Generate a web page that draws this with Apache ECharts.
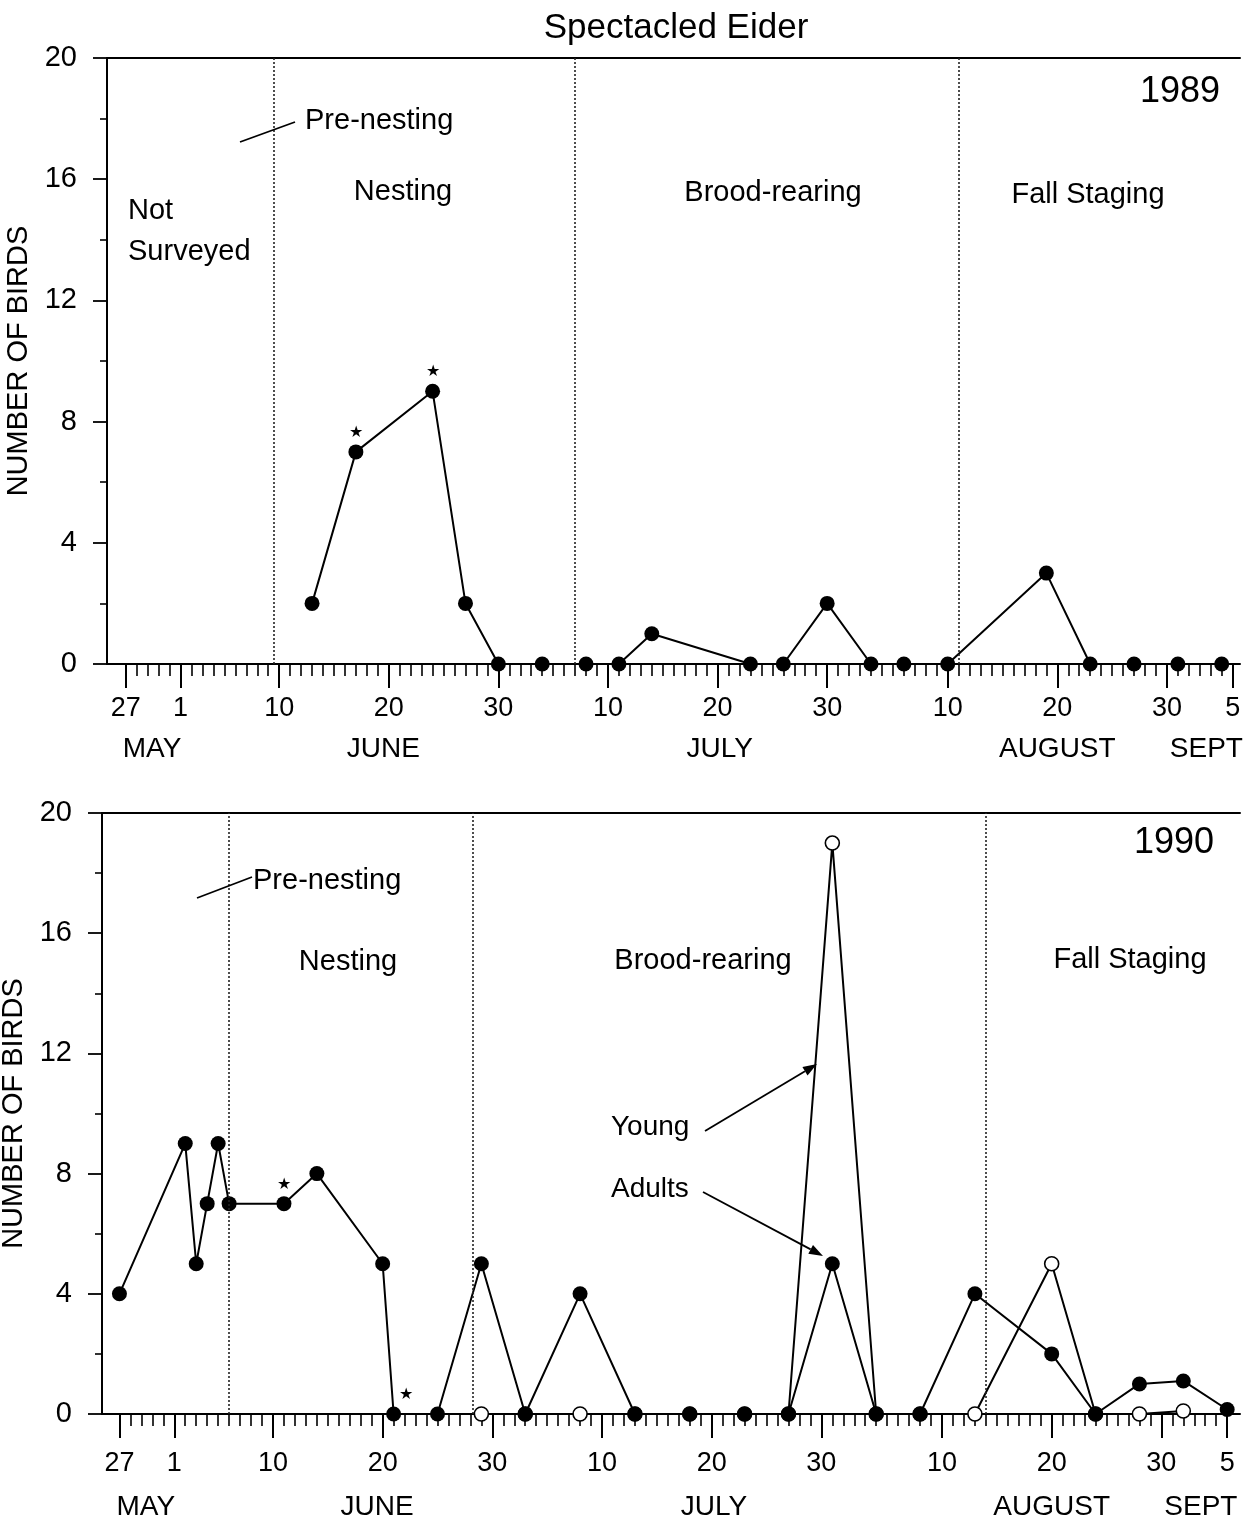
<!DOCTYPE html>
<html>
<head>
<meta charset="utf-8">
<title>Spectacled Eider</title>
<script src="https://cdn.jsdelivr.net/npm/echarts@6/dist/echarts.min.js"></script>
<style>
  html, body { margin: 0; padding: 0; background: #fff; }
  #chart { width: 1255px; height: 1527px; }
</style>
</head>
<body>
<div id="chart"></div>
<script>
// ---- Survey counts (dates as MM-DD) ----
const dates1989 = ['06-13','06-17','06-24','06-27','06-30','07-04','07-08','07-11','07-14','07-23',
                   '07-26','07-30','08-03','08-06','08-10','08-19','08-23','08-27','08-31','09-04'];
const adults1989 = [2, 7, 9, 2, 0, 0, 0, 0, 1, 0, 0, 2, 0, 0, 0, 3, 0, 0, 0, 0];
const starred1989 = ['06-17', '06-24'];

const dates1990 = ['05-27','06-02','06-03','06-04','06-05','06-06','06-11','06-14','06-20','06-21',
                   '06-25','06-29','07-03','07-08','07-13','07-18','07-23','07-27','07-31','08-04',
                   '08-08','08-13','08-20','08-24','08-28','09-01','09-05'];
const adults1990 = [4, 9, 5, 7, 9, 7, 7, 8, 5, 0, 0, 5, 0, 4, 0, 0, 0, 0, 5, 0, 0, 4, 2, 0, 1, 1.1, 0.15];
const starred1990 = ['06-11', '06-21'];

const youngDates1990 = ['06-29','07-03','07-08','07-13','07-18','07-23','07-27','07-31','08-04',
                        '08-08','08-13','08-20','08-24','08-28','09-01'];
const young1990 = [0, 0, 0, 0, 0, 0, 0, 19, 0, 0, 0, 5, 0, 0, 0.1];

// Season boundaries (fractional days after 1 June)
const phaseBounds1989 = [8.5, 36.0, 71.0];
const phaseBounds1990 = [5.0, 27.2, 74.0];

// Date axis labels
const tickDates = ['05-27','06-01','06-10','06-20','06-30','07-10','07-20','07-30','08-10','08-20','08-30','09-05'];
const tickLabels = ['27', '1', '10', '20', '30', '10', '20', '30', '10', '20', '30', '5'];
const monthNames = ['MAY', 'JUNE', 'JULY', 'AUGUST', 'SEPT'];
const monthCenters = [-2.6, 18.5, 49.2, 80.0, 93.6];
const yTicks = [0, 4, 8, 12, 16, 20];

// ---- helpers ----
// days after 1 June (same calendar for both seasons)
function dayOf(md) {
  const [m, d] = md.split('-').map(Number);
  return (Date.UTC(2001, m - 1, d) - Date.UTC(2001, 5, 1)) / 86400000;
}
const xRange = [[-6.71, 96.67], [-6.59, 97.17]];
const allDays = [];
for (let d = dayOf('05-27'); d <= dayOf('09-05'); d++) allDays.push(d);
const tickDays = tickDates.map(dayOf);
const FONT = 'Liberation Sans, Arial, Helvetica, sans-serif';

function pts(dates, vals, starred, starOffsets) {
  return dates.map((md, i) => {
    const item = { value: [dayOf(md), vals[i]] };
    const si = starred ? starred.indexOf(md) : -1;
    if (si >= 0) {
      item.label = {
        show: true, formatter: '\u2605', position: 'top', distance: 4,
        fontSize: 16, color: '#000', offset: starOffsets[si]
      };
    }
    return item;
  });
}

const grids = [
  { left: 107, right: 15, top: 58, height: 606, outerBoundsMode: 'none', containLabel: false },
  { left: 102, right: 15, top: 813, height: 601, outerBoundsMode: 'none', containLabel: false }
];
const dayLabelMargin = [31, 36];
const monthLabelMargin = [71, 79];

const xAxes = [], yAxes = [];
grids.forEach((g, gi) => {
  const mn = xRange[gi][0], mx = xRange[gi][1];
  // daily ticks + baseline
  xAxes.push({
    type: 'value', gridIndex: gi, min: mn, max: mx, position: 'bottom',
    axisLine: { show: true, onZero: false, lineStyle: { color: '#000', width: 2 } },
    axisTick: { show: true, customValues: allDays, length: 12, lineStyle: { color: '#000', width: 1.6 } },
    axisLabel: { show: false }, splitLine: { show: false }
  });
  // long ticks with day numbers
  xAxes.push({
    type: 'value', gridIndex: gi, min: mn, max: mx, position: 'bottom',
    axisLine: { show: false, onZero: false },
    axisTick: { show: true, customValues: tickDays, length: 24, lineStyle: { color: '#000', width: 2 } },
    axisLabel: {
      show: true, customValues: tickDays, margin: dayLabelMargin[gi],
      fontSize: 27, color: '#000', fontFamily: FONT,
      formatter: v => tickLabels[tickDays.indexOf(v)]
    },
    splitLine: { show: false }
  });
  // month names
  xAxes.push({
    type: 'value', gridIndex: gi, min: mn, max: mx, position: 'bottom',
    axisLine: { show: false, onZero: false }, axisTick: { show: false },
    axisLabel: {
      show: true, customValues: monthCenters, margin: monthLabelMargin[gi],
      fontSize: 28, color: '#000', fontFamily: FONT,
      formatter: v => monthNames[monthCenters.indexOf(v)]
    },
    splitLine: { show: false }
  });
  // frame top edge
  xAxes.push({
    type: 'value', gridIndex: gi, min: mn, max: mx, position: 'top',
    axisLine: { show: true, onZero: false, lineStyle: { color: '#000', width: 2 } },
    axisTick: { show: false }, axisLabel: { show: false }, splitLine: { show: false }
  });
  yAxes.push({
    type: 'value', gridIndex: gi, min: 0, max: 20, interval: 4,
    axisLine: { show: true, onZero: false, lineStyle: { color: '#000', width: 2 } },
    axisTick: { show: true, length: 14, lineStyle: { color: '#000', width: 1.8 } },
    minorTick: { show: true, splitNumber: 2, length: 7, lineStyle: { color: '#000', width: 1.6 } },
    axisLabel: {
      show: true, customValues: yTicks, margin: 30, fontSize: 29, color: '#000', fontFamily: FONT
    },
    splitLine: { show: false }, minorSplitLine: { show: false },
    name: 'NUMBER OF BIRDS', nameLocation: 'middle', nameGap: gi === 0 ? 69 : 64,
    nameTextStyle: { fontSize: 29, color: '#000', fontFamily: FONT }
  });
});

const lineStyle = { color: '#000', width: 2 };
const filled = { color: '#000' };
const hollow = { color: '#fff', borderColor: '#000', borderWidth: 1.6 };

function dividers(bounds) {
  return {
    silent: true, symbol: 'none', animation: false,
    label: { show: false },
    lineStyle: { color: '#222', type: [2, 2], width: 1.6 },
    data: bounds.map(b => ({ xAxis: b }))
  };
}

const series = [
  {
    name: 'Adults 1989', type: 'line', xAxisIndex: 0, yAxisIndex: 0,
    data: pts(dates1989, adults1989, starred1989, [[0, 0], [0, 0]]),
    symbol: 'circle', symbolSize: 15, itemStyle: filled, lineStyle: lineStyle,
    markLine: dividers(phaseBounds1989), z: 3
  },
  {
    name: 'Young 1990', type: 'line', xAxisIndex: 4, yAxisIndex: 1,
    data: pts(youngDates1990, young1990),
    symbol: 'circle', symbolSize: 14, itemStyle: hollow, lineStyle: lineStyle, z: 2
  },
  {
    name: 'Adults 1990', type: 'line', xAxisIndex: 4, yAxisIndex: 1,
    data: pts(dates1990, adults1990, starred1990, [[0, 0], [12, 0]]),
    symbol: 'circle', symbolSize: 15, itemStyle: filled, lineStyle: lineStyle,
    markLine: dividers(phaseBounds1990), z: 3
  }
];

function txt(x, y, s, opts) {
  opts = opts || {};
  return {
    type: 'text', x: x, y: y, silent: true, z: 10,
    style: {
      text: s, fill: '#000', font: (opts.size || 29) + 'px ' + FONT,
      textAlign: opts.align || 'left', textVerticalAlign: 'middle'
    }
  };
}
function seg(x1, y1, x2, y2) {
  return {
    type: 'line', silent: true, z: 10,
    shape: { x1: x1, y1: y1, x2: x2, y2: y2 },
    style: { stroke: '#000', lineWidth: 1.8 }
  };
}
function arrow(x1, y1, x2, y2) {
  const a = Math.atan2(y2 - y1, x2 - x1), L = 14, W = 5;
  const bx = x2 - L * Math.cos(a), by = y2 - L * Math.sin(a);
  const nx = -Math.sin(a) * W, ny = Math.cos(a) * W;
  return [
    seg(x1, y1, bx, by),
    {
      type: 'polygon', silent: true, z: 10,
      shape: { points: [[x2, y2], [bx + nx, by + ny], [bx - nx, by - ny]] },
      style: { fill: '#000' }
    }
  ];
}

const graphic = [
  txt(676, 28, 'Spectacled Eider', { size: 35, align: 'center' }),
  // 1989 panel notes
  txt(1220, 92, '1989', { size: 36, align: 'right' }),
  txt(128, 211, 'Not'),
  txt(128, 252, 'Surveyed'),
  txt(305, 121, 'Pre-nesting'),
  seg(240, 142, 295, 122),
  txt(403, 192, 'Nesting', { align: 'center' }),
  txt(773, 193, 'Brood-rearing', { align: 'center' }),
  txt(1088, 195, 'Fall Staging', { align: 'center' }),
  // 1990 panel notes
  txt(1214, 843, '1990', { size: 36, align: 'right' }),
  txt(253, 881, 'Pre-nesting'),
  seg(197, 898, 252, 877),
  txt(348, 962, 'Nesting', { align: 'center' }),
  txt(703, 961, 'Brood-rearing', { align: 'center' }),
  txt(1130, 960, 'Fall Staging', { align: 'center' }),
  txt(611, 1127, 'Young', { size: 28 }),
  txt(611, 1189, 'Adults', { size: 28 })
].concat(arrow(705, 1131, 817, 1064), arrow(703, 1192, 823, 1256));

const chart = echarts.init(document.getElementById('chart'), null, { renderer: 'canvas' });
chart.setOption({
  backgroundColor: '#fff',
  animation: false,
  textStyle: { fontFamily: FONT },
  grid: grids,
  xAxis: xAxes,
  yAxis: yAxes,
  series: series,
  graphic: graphic
});
</script>
</body>
</html>
